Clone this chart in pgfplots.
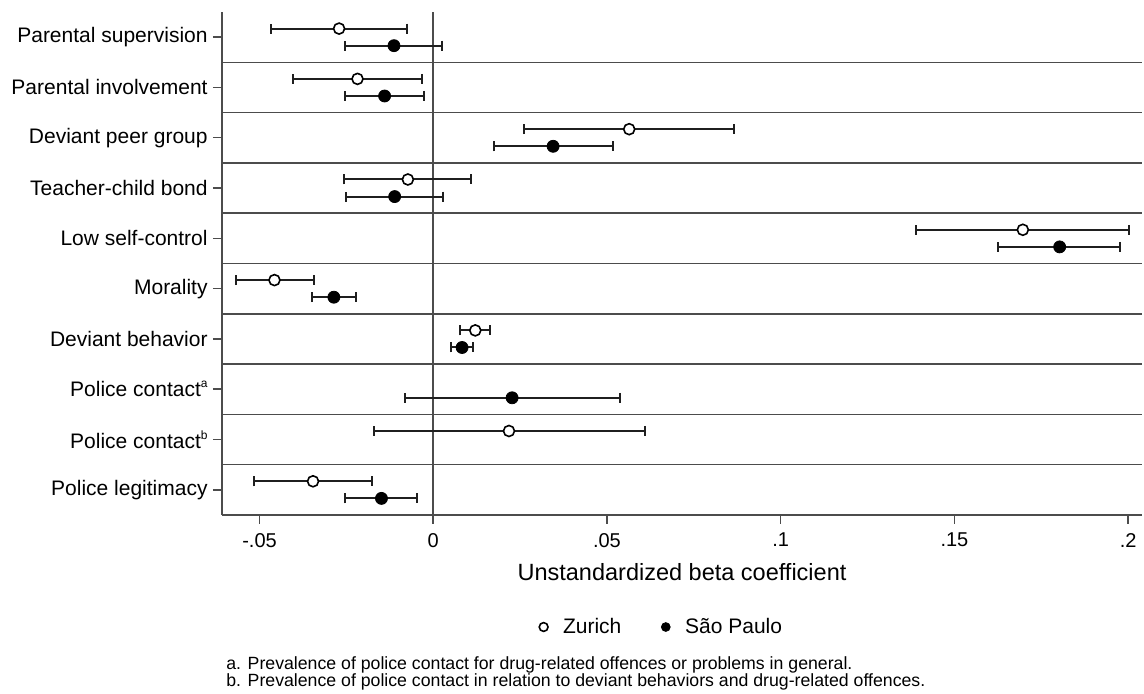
\documentclass[border=0pt]{standalone}
\usepackage{fontspec}
\setmainfont{Liberation Sans}
\usepackage{pgfplots}
\usepackage{pgfplotstable}
\pgfplotsset{compat=1.18}

% row 10 = top category; b = coefficient, lo/hi = confidence interval
\pgfplotstableread{
row  b        lo       hi
10  -0.0271  -0.0466  -0.0076
9   -0.0218  -0.0404  -0.0031
8    0.0564   0.0262   0.0866
7   -0.0073  -0.0258   0.0110
6    0.1697   0.1390   0.2002
5   -0.0457  -0.0569  -0.0344
4    0.0121   0.0078   0.0164
2    0.0218  -0.0171   0.0609
1   -0.0346  -0.0516  -0.0176
}\zurich

\pgfplotstableread{
row  b        lo       hi
10  -0.0113  -0.0255   0.0026
9   -0.0140  -0.0255  -0.0026
8    0.0345   0.0174   0.0516
7   -0.0111  -0.0250   0.0028
6    0.1803   0.1625   0.1976
5   -0.0286  -0.0348  -0.0223
4    0.0083   0.0052   0.0113
3    0.0227  -0.0082   0.0537
1   -0.0149  -0.0255  -0.0047
}\saopaulo

\definecolor{axisgray}{gray}{0.3}
\definecolor{barblack}{gray}{0.12}
\newcommand{\supl}[1]{\raisebox{0.42em}{\fontsize{6}{6}\selectfont #1}}

\begin{document}
\begin{tikzpicture}
\begin{axis}[
    scale only axis,
    width=460pt, height=251.5pt,
    xmin=-0.0608, xmax=0.204,
    ymin=0.5, ymax=10.5,
    axis x line*=bottom, axis y line*=left,
    axis line style={-, axisgray, line width=0.75pt},
    tick align=outside,
    major tick length=4.5pt,
    tick style={axisgray, line width=0.75pt},
    xtick={-0.05,0,0.05,0.1,0.15,0.2},
    xticklabels={-.05,0,.05,.1,.15,.2},
    xticklabel style={font=\fontsize{10}{12}\selectfont, inner sep=0pt, yshift=-4.4pt},
    ytick={1,...,10},
    yticklabels={Police legitimacy, Police contact\supl{b}, Police contact\supl{a},
        Deviant behavior, Morality, Low self-control, Teacher-child bond,
        Deviant peer group, Parental involvement, Parental supervision},
    yticklabel style={font=\fontsize{10.5}{12}\selectfont, inner sep=0pt, xshift=-2.5pt},
    extra y ticks={1.5,2.5,3.5,4.5,5.5,6.5,7.5,8.5,9.5},
    extra y tick labels={},
    extra y tick style={grid=major, major tick length=0pt},
    extra x ticks={0},
    extra x tick labels={},
    extra x tick style={grid=major},
    grid style={axisgray, line width=0.75pt},
    xlabel={Unstandardized beta coefficient},
    xlabel style={font=\fontsize{11.75}{14}\selectfont, at={(axis description cs:0.5,0)}, anchor=center, yshift=-28.5pt},
    legend columns=2,
    legend style={at={(axis description cs:0.473,-0.2227)}, anchor=center, draw=none, fill=none,
        font=\fontsize{10.5}{12}\selectfont,
        /tikz/every even column/.append style={column sep=12.5pt}},
    legend image code/.code={\path (0pt,0pt) (15pt,0pt); \draw[#1, mark size=2.2pt] plot coordinates {(7.5pt,0pt)};},
]
% confidence intervals
\addplot[forget plot, only marks, mark=*, mark size=0pt,
    error bars/.cd, x dir=both, x explicit, error mark=|,
    error bar style={draw=barblack, line width=1pt},
    error mark options={draw=barblack, line width=1pt, mark size=2.5pt}]
    table[x=b, y expr=\thisrow{row}+0.17,
          x error minus expr=\thisrow{b}-\thisrow{lo},
          x error plus expr=\thisrow{hi}-\thisrow{b}] {\zurich};
\addplot[forget plot, only marks, mark=*, mark size=0pt,
    error bars/.cd, x dir=both, x explicit, error mark=|,
    error bar style={draw=barblack, line width=1pt},
    error mark options={draw=barblack, line width=1pt, mark size=2.5pt}]
    table[x=b, y expr=\thisrow{row}-0.17,
          x error minus expr=\thisrow{b}-\thisrow{lo},
          x error plus expr=\thisrow{hi}-\thisrow{b}] {\saopaulo};
% point estimates
\addplot[only marks, mark=*, mark size=2.75pt,
    mark options={draw=black, fill=white, line width=0.8pt}]
    table[x=b, y expr=\thisrow{row}+0.17] {\zurich};
\addlegendentry{Zurich}
\addplot[only marks, mark=*, mark size=3pt,
    mark options={draw=black, fill=black, line width=0.4pt}]
    table[x=b, y expr=\thisrow{row}-0.17] {\saopaulo};
\addlegendentry{São Paulo}
\coordinate (sw) at (rel axis cs:0,0);
\coordinate (ne) at (rel axis cs:1,1);
\end{axis}
\node[anchor=base west, inner sep=0pt, font=\fontsize{8.85}{10}\selectfont]
    at ([xshift=2pt, yshift=-77.3pt]sw)
    {a. Prevalence of police contact for drug-related offences or problems in general.};
\node[anchor=base west, inner sep=0pt, font=\fontsize{8.85}{10}\selectfont]
    at ([xshift=2pt, yshift=-85.6pt]sw)
    {b. Prevalence of police contact in relation to deviant behaviors and drug-related offences.};
\pgfresetboundingbox
\path[use as bounding box] ([xshift=-111pt, yshift=-89.5pt]sw) rectangle ([xshift=1pt, yshift=6pt]ne);
\end{tikzpicture}
\end{document}
